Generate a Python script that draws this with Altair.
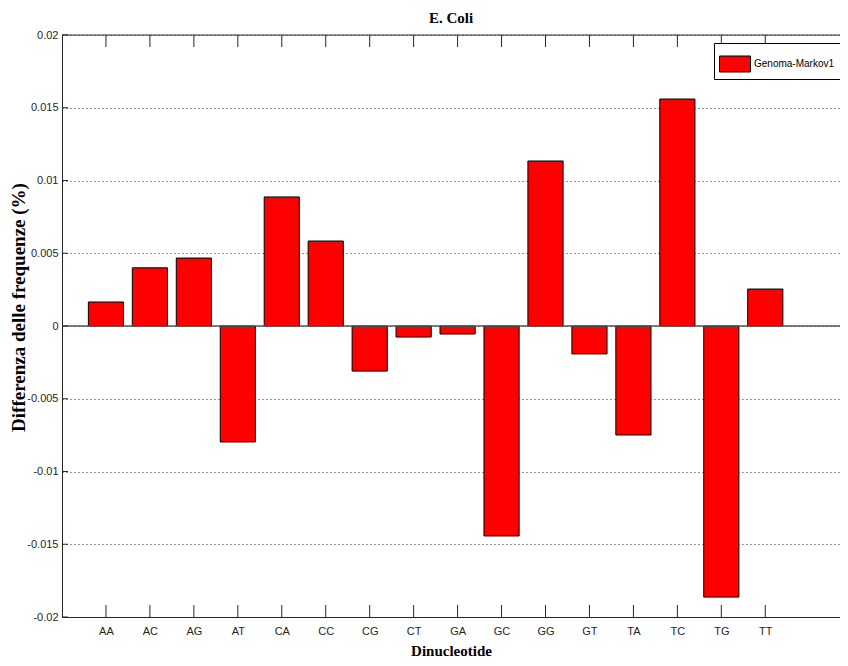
import altair as alt
import pandas as pd

categories = ["AA", "AC", "AG", "AT", "CA", "CC", "CG", "CT",
              "GA", "GC", "GG", "GT", "TA", "TC", "TG", "TT"]
values = [0.00165, 0.0040, 0.00467, -0.00797, 0.00887, 0.00584, -0.0031, -0.00076,
          -0.00055, -0.01443, 0.01134, -0.00192, -0.00749, 0.0156, -0.01863, 0.00254]
series_name = "Genoma-Markov1"
y_ticks = [-0.02, -0.015, -0.01, -0.005, 0, 0.005, 0.01, 0.015, 0.02]
zero_level = [0]

positions = list(range(1, len(categories) + 1))
W, H = 778, 582
SANS = "Liberation Sans, Arial, sans-serif"
SERIF = "Liberation Serif, Times New Roman, serif"
AX = "#262626"

df = pd.DataFrame({"cat": categories, "value": values, "pos": positions,
                   "series": [series_name] * len(categories)})
tick_df = pd.DataFrame({"pos": positions})
ytick_df = pd.DataFrame({"v": y_ticks})
zero_df = pd.DataFrame({"v": zero_level})

xscale = alt.Scale(domain=[0, 17.7], nice=False, zero=False)
yscale = alt.Scale(domain=[-0.02, 0.02], nice=False)

label_expr = "[" + ",".join(f"'{c}'" for c in categories) + "][datum.value - 1]"

x_axis = alt.Axis(
    values=positions, labelExpr=label_expr, title="Dinucleotide",
    ticks=False, grid=False, domain=True, domainColor=AX, domainWidth=1,
    labelFont=SANS, labelFontSize=11, labelColor=AX, labelPadding=8,
    labelAngle=0, labelOverlap=False, labelFlush=False,
    titleFont=SERIF, titleFontSize=15, titleFontWeight="bold",
    titleColor="black", titlePadding=7)
y_axis = alt.Axis(
    values=y_ticks, labelExpr="toString(datum.value)",
    title="Differenza delle frequenze (%)",
    ticks=False, grid=True, gridDash=[1, 3], gridColor=AX, gridWidth=1,
    domain=True, domainColor=AX, domainWidth=1,
    labelFont=SANS, labelFontSize=11, labelColor=AX, labelPadding=4,
    labelOverlap=False, labelFlush=False,
    titleFont=SERIF, titleFontSize=19, titleFontWeight="bold", titleColor="black",
    titleX=-34, titleY=272, titleAngle=270, titleBaseline="bottom", titleAlign="center")

bars = alt.Chart(df).transform_calculate(
    x0="datum.pos - 0.4", x1="datum.pos + 0.4"
).mark_bar(stroke="black", strokeWidth=1).encode(
    x=alt.X("x0:Q", scale=xscale, axis=x_axis),
    x2="x1:Q",
    y=alt.Y("value:Q", scale=yscale, axis=y_axis),
    y2=alt.datum(0),
    color=alt.Color("series:N", scale=alt.Scale(range=["#ff0000"]), legend=alt.Legend(
        title=None, orient="none", legendX=652, legendY=8,
        symbolType="M-1,-0.516H1V0.516H-1Z", symbolSize=961,
        symbolStrokeColor="black", symbolStrokeWidth=1, symbolOpacity=1,
        labelFont=SANS, labelFontSize=10, labelColor="black", labelOffset=3,
        strokeColor="black", fillColor="white", padding=5, cornerRadius=0)),
)

zero_line = alt.Chart(zero_df).mark_rule(color="#555555", strokeWidth=1.5).encode(
    y=alt.Y("v:Q", scale=yscale, axis=y_axis),
    x=alt.value(0), x2=alt.value(W),
)

xt_bottom = alt.Chart(tick_df).mark_rule(color=AX, strokeWidth=1).encode(
    x=alt.X("pos:Q", scale=xscale, axis=x_axis),
    y=alt.value(H), y2=alt.value(H - 12),
)
xt_top = alt.Chart(tick_df).mark_rule(color=AX, strokeWidth=1).encode(
    x=alt.X("pos:Q", scale=xscale, axis=x_axis),
    y=alt.value(0), y2=alt.value(12),
)
yt_left = alt.Chart(ytick_df).mark_rule(color=AX, strokeWidth=1).encode(
    y=alt.Y("v:Q", scale=yscale, axis=y_axis),
    x=alt.value(0), x2=alt.value(6),
)
top_frame = alt.Chart(zero_df).mark_rule(color=AX, strokeWidth=1).encode(
    x=alt.value(0), x2=alt.value(W), y=alt.value(0),
)

chart = alt.layer(bars, zero_line, xt_bottom, xt_top, yt_left, top_frame).properties(
    width=W, height=H,
    title=alt.TitleParams("E. Coli", font=SERIF, fontSize=15, fontWeight="bold",
                          color="black", offset=3, anchor="middle"),
    autosize=alt.AutoSizeParams(type="none"),
    padding={"left": 54, "top": 27, "right": 0, "bottom": 41},
).configure_view(stroke=None)

chart.save("out.html", embed_options={"renderer": "svg", "actions": False})
